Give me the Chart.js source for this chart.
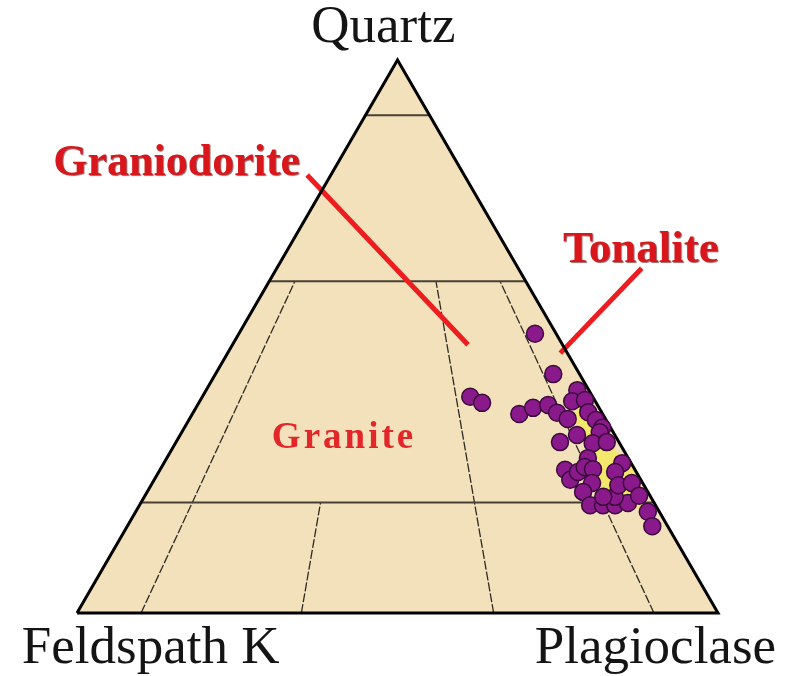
<!DOCTYPE html>
<html>
<head>
<meta charset="utf-8">
<script src="https://cdn.jsdelivr.net/npm/chart.js@4.4.1/dist/chart.umd.min.js"></script>
<style>
  body { margin: 0; background: #fff; }
  canvas { display: block; }
</style>
</head>
<body>
<canvas id="qapChart" width="794" height="676"></canvas>
<script>
// sample compositions, in percent: quartz, alkali feldspar, plagioclase
const quartz = [50.5, 43.2, 39.1, 38.0, 36.0, 37.1, 37.6, 36.2, 35.1, 40.3, 38.3, 38.5, 36.3, 34.9, 33.5, 32.2, 30.9, 32.7, 30.7, 30.9, 25.9, 24.1, 25.5, 28.0, 26.4, 26.0, 23.5, 21.9, 19.5, 19.5, 19.5, 19.9, 21.0, 27.1, 25.5, 23.1, 23.5, 21.2, 18.3, 15.7, 21.0];
const feldsparK = [3.3, 4.1, 19.1, 17.8, 13.0, 10.3, 7.7, 7.0, 5.9, 1.8, 3.6, 1.5, 2.1, 1.6, 1.3, 5.9, 9.2, 2.1, 4.2, 1.9, 10.9, 11.0, 9.1, 6.3, 7.6, 6.5, 7.9, 10.1, 10.2, 8.2, 6.3, 4.1, 5.6, 1.4, 3.3, 4.0, 1.7, 1.7, 1.8, 2.4, 7.4];
const plagioclase = [46.2, 52.7, 41.8, 44.2, 51.0, 52.6, 54.7, 56.8, 59.0, 57.9, 58.1, 60.0, 61.6, 63.5, 65.2, 61.9, 59.9, 65.2, 65.1, 67.2, 63.2, 64.9, 65.4, 65.7, 66.0, 67.5, 68.6, 68.0, 70.3, 72.3, 74.2, 76.0, 73.4, 71.5, 71.2, 72.9, 74.8, 77.1, 79.9, 81.9, 71.6];

// density patch behind the tonalite samples (Q, P in percent)
const patchQ = [37.6, 37.6, 34.0, 31.6, 29.1, 28.0, 25.5, 22.2, 19.5, 19.0, 20.4, 20.8, 23.1, 25.9, 28.6, 29.8, 32.2, 34.9];
const patchP = [59.4, 61.5, 64.6, 67.7, 69.5, 72.0, 74.5, 76.9, 78.9, 76.8, 72.9, 70.9, 69.4, 68.6, 66.7, 64.8, 62.7, 60.4];

// Streckeisen field boundaries
const quartzLevels = [90, 60, 20];
const plagRatios = [10, 35, 65, 90];     // P / (A + P), percent
const ratioTopQ = [60, 20, 60, 60];      // how far up each ratio line runs

const H = Math.sqrt(3) / 2;

function tern(q, a, p) {
  let s = q + a + p;
  return { x: (p + q / 2) / s, y: (q / s) * H };
}

let samples = quartz.map((q, i) => tern(q, feldsparK[i], plagioclase[i]));
let patch = patchQ.map((q, i) => tern(q, 100 - q - patchP[i], patchP[i]));
patch.push(patch[0]);

let corners = [tern(0, 100, 0), tern(0, 0, 100), tern(100, 0, 0), tern(0, 100, 0)];

let boundaryLines = [];
quartzLevels.forEach(q => {
  boundaryLines.push({ pts: [tern(q, 100 - q, 0), tern(q, 0, 100 - q)], width: 2, color: '#464034', dash: [] });
});
plagRatios.forEach((r, i) => {
  let top = ratioTopQ[i];
  let pts = [tern(0, 100 - r, r), tern(top, (100 - top) * (100 - r) / 100, (100 - top) * r / 100)];
  boundaryLines.push({ pts: pts, width: 1.3, color: '#2f2b25', dash: [9, 2] });
});

// red pointer lines, in plot units
const pointers = [
  [{ x: 0.359, y: 0.686 }, { x: 0.610, y: 0.420 }],
  [{ x: 0.881, y: 0.540 }, { x: 0.754, y: 0.407 }]
];

// text labels, in plot units
const labels = [
  { text: 'Quartz', x: 0.478, y: 0.894, align: 'center', font: '53px "Liberation Serif"', color: '#141414' },
  { text: 'Feldspath K', x: -0.086, y: -0.078, align: 'left', font: '53px "Liberation Serif"', color: '#141414' },
  { text: 'Plagioclase', x: 0.714, y: -0.078, align: 'left', font: '53px "Liberation Serif"', color: '#141414' },
  { text: 'Graniodorite', x: -0.037, y: 0.686, align: 'left', font: 'bold 44px "Liberation Serif"', color: '#d8161b', shadow: true },
  { text: 'Tonalite', x: 0.758, y: 0.550, align: 'left', font: 'bold 45px "Liberation Serif"', color: '#d8161b', shadow: true },
  { text: 'Granite', x: 0.304, y: 0.258, align: 'left', font: 'bold 37px "Liberation Serif"', color: '#e3262a', spacing: '3px' }
];

const labelPlugin = {
  id: 'labels',
  afterDatasetsDraw(chart) {
    let ctx = chart.ctx;
    let xs = chart.scales.x, ys = chart.scales.y;
    labels.forEach(l => {
      ctx.save();
      ctx.font = l.font;
      ctx.fillStyle = l.color;
      ctx.textAlign = l.align;
      ctx.textBaseline = 'alphabetic';
      if (l.spacing) ctx.letterSpacing = l.spacing;
      if (l.shadow) {
        ctx.shadowColor = 'rgba(70, 0, 0, 0.6)';
        ctx.shadowOffsetX = 1;
        ctx.shadowOffsetY = 1;
        ctx.shadowBlur = 1;
      }
      ctx.fillText(l.text, xs.getPixelForValue(l.x), ys.getPixelForValue(l.y));
      ctx.restore();
    });
  }
};

let datasets = [];

datasets.push({
  data: samples,
  backgroundColor: '#8a198c',
  borderColor: '#3a0b3b',
  borderWidth: 1.5,
  pointRadius: 8.5,
  showLine: false,
  order: 0
});

datasets.push({
  data: corners,
  showLine: true,
  fill: false,
  borderColor: '#000',
  borderWidth: 3,
  pointRadius: 0,
  order: 1
});

pointers.forEach(p => {
  datasets.push({
    data: p,
    showLine: true,
    borderColor: '#ec1c1f',
    borderWidth: 5,
    pointRadius: 0,
    order: 2
  });
});

boundaryLines.forEach(b => {
  datasets.push({
    data: b.pts,
    showLine: true,
    borderColor: b.color,
    borderWidth: b.width,
    borderDash: b.dash,
    pointRadius: 0,
    order: 3
  });
});

datasets.push({
  data: patch,
  showLine: true,
  fill: 'shape',
  backgroundColor: '#f3e86c',
  borderColor: '#f3e86c',
  borderWidth: 1,
  tension: 0.3,
  pointRadius: 0,
  order: 4
});

datasets.push({
  data: corners,
  showLine: true,
  fill: 'shape',
  backgroundColor: '#f2e1bb',
  borderWidth: 0,
  pointRadius: 0,
  order: 5
});

datasets.forEach(d => { d.clip = false; });

new Chart(document.getElementById('qapChart'), {
  type: 'scatter',
  data: { datasets: datasets },
  options: {
    responsive: false,
    animation: false,
    devicePixelRatio: 1,
    layout: { padding: { left: 77, right: 76, top: 60, bottom: 63 } },
    plugins: { legend: { display: false }, tooltip: { enabled: false } },
    scales: {
      x: { type: 'linear', min: 0, max: 1, display: false },
      y: { type: 'linear', min: 0, max: H, display: false }
    }
  },
  plugins: [labelPlugin]
});
</script>
</body>
</html>
